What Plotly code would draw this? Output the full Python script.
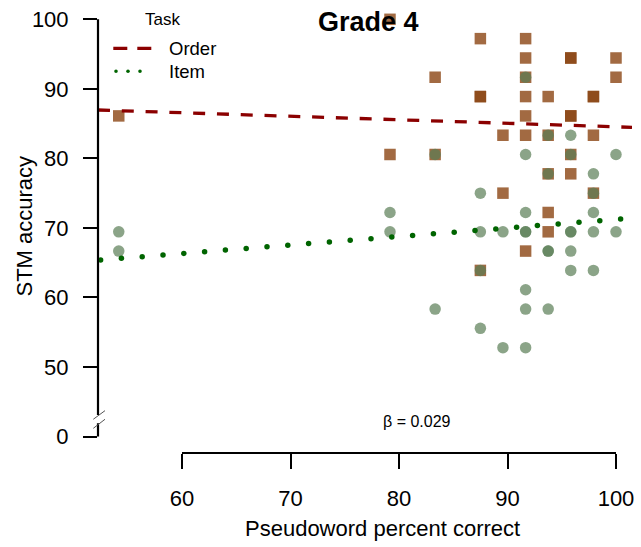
import numpy as np
import plotly.graph_objects as go

# ---------------- data ----------------
order_x = [54.17, 79.17, 79.17, 83.33, 83.33,
           87.5, 87.5, 87.5, 87.5, 89.58, 89.58,
           91.67, 91.67, 91.67, 91.67, 91.67, 91.67, 91.67,
           93.75, 93.75, 93.75, 93.75, 93.75,
           95.83, 95.83, 95.83, 95.83, 95.83, 95.83,
           97.92, 97.92, 97.92, 97.92, 100.0, 100.0]
order_y = [86.11, 100.0, 80.56, 91.67, 80.56,
           97.22, 88.89, 88.89, 63.89, 83.33, 75.0,
           97.22, 94.44, 91.67, 88.89, 86.11, 83.33, 66.67,
           88.89, 83.33, 77.78, 72.22, 69.44,
           94.44, 94.44, 86.11, 86.11, 80.56, 77.78,
           88.89, 88.89, 83.33, 75.0, 94.44, 91.67]

item_x = [54.17, 54.17, 79.17, 79.17, 83.33, 83.33,
          87.5, 87.5, 87.5, 87.5, 89.58, 89.58,
          91.67, 91.67, 91.67, 91.67, 91.67, 91.67, 91.67, 91.67,
          93.75, 93.75, 93.75, 93.75, 93.75,
          95.83, 95.83, 95.83, 95.83, 95.83, 95.83,
          97.92, 97.92, 97.92, 97.92, 97.92, 100.0, 100.0]
item_y = [69.44, 66.67, 72.22, 69.44, 80.56, 58.33,
          75.0, 69.44, 63.89, 55.56, 69.44, 52.78,
          91.67, 80.56, 72.22, 69.44, 69.44, 61.11, 58.33, 52.78,
          83.33, 77.78, 66.67, 66.67, 58.33,
          83.33, 80.56, 69.44, 69.44, 66.67, 63.89,
          77.78, 75.0, 72.22, 69.44, 63.89, 80.56, 69.44]

# fitted regression lines (intercept, slope)
order_fit = [89.60, -0.0506]
item_fit = [58.96, 0.1226]

x_ticks = [60, 70, 80, 90, 100]
y_tickvals = [40, 50, 60, 70, 80, 90, 100]
y_ticktext = ["0", "50", "60", "70", "80", "90", "100"]
beta_text = "\u03b2 = 0.029"

# ---------------- layout geometry ----------------
W, H = 641, 547
PX_L, PX_R, PX_T, PX_B = 98, 632, 2, 453
XR = [52.258, 101.475]
YR = [37.63, 102.49]
ppu_x = (PX_R - PX_L) / (XR[1] - XR[0])


def fy(v):
    return (v - YR[0]) / (YR[1] - YR[0])


def fx(v):
    return (v - XR[0]) / (XR[1] - XR[0])


def pxx(p):
    return (p - PX_L) / (PX_R - PX_L)


def pxy(p):
    return (PX_B - p) / (PX_B - PX_T)


FONT = "Liberation Sans, Arial, sans-serif"
BROWN = "rgba(139,69,19,0.8)"
GREEN = "rgba(90,125,85,0.7)"
DARKRED = "#8B0000"
DARKGREEN = "#006400"

fig = go.Figure()

fig.add_trace(go.Scatter(x=order_x, y=order_y, mode="markers",
                         marker=dict(symbol="square", size=11.5, color=BROWN,
                                     line=dict(width=0)),
                         showlegend=False, hoverinfo="skip"))
fig.add_trace(go.Scatter(x=item_x, y=item_y, mode="markers",
                         marker=dict(symbol="circle", size=11.5, color=GREEN,
                                     line=dict(width=0)),
                         showlegend=False, hoverinfo="skip"))

# order regression (dashed)
lx = np.array(XR)
fig.add_trace(go.Scatter(x=lx, y=order_fit[0] + order_fit[1] * lx, mode="lines",
                         line=dict(color=DARKRED, width=3.3, dash="12px,11.8px"),
                         showlegend=False, hoverinfo="skip"))
# item regression (dotted, round dots)
dx = np.arange(XR[0] + 2.6 / ppu_x, XR[1], 20.8 / ppu_x)
fig.add_trace(go.Scatter(x=dx, y=item_fit[0] + item_fit[1] * dx, mode="markers",
                         marker=dict(symbol="circle", size=5.5, color=DARKGREEN,
                                     line=dict(width=0)),
                         showlegend=False, hoverinfo="skip"))

shapes = []
LW = 2.2
# y axis with break
shapes.append(dict(type="line", xref="paper", yref="paper", x0=0, x1=0,
                   y0=fy(100), y1=fy(43.10), line=dict(color="black", width=LW)))
shapes.append(dict(type="line", xref="paper", yref="paper", x0=0, x1=0,
                   y0=fy(41.91), y1=fy(40), line=dict(color="black", width=LW)))
for ya, yb in [(42.48, 43.72), (41.18, 42.48)]:
    shapes.append(dict(type="line", xref="paper", yref="paper",
                       x0=pxx(93.3), x1=pxx(105), y0=fy(ya), y1=fy(yb),
                       line=dict(color="#555555", width=1)))
# x axis line
shapes.append(dict(type="line", xref="paper", yref="paper", x0=fx(60), x1=fx(100),
                   y0=0, y1=0, line=dict(color="black", width=LW)))
# legend symbols
shapes.append(dict(type="line", xref="paper", yref="paper", x0=pxx(113.3), x1=pxx(151.7),
                   y0=pxy(48.3), y1=pxy(48.3),
                   line=dict(color=DARKRED, width=3.3, dash="14px,10px")))
for cx in [116, 128, 140]:
    r = 1.8
    shapes.append(dict(type="circle", xref="paper", yref="paper",
                       x0=pxx(cx - r), x1=pxx(cx + r), y0=pxy(71.3 + r), y1=pxy(71.3 - r),
                       fillcolor=DARKGREEN, line=dict(width=0)))

annotations = [
    dict(text="<b>Grade 4</b>", x=pxx(368), y=pxy(22.5), xref="paper", yref="paper",
         showarrow=False, xanchor="center", yanchor="middle",
         font=dict(family=FONT, size=27, color="black")),
    dict(text="Task", x=pxx(143), y=pxy(19), xref="paper", yref="paper",
         showarrow=False, xanchor="left", yanchor="middle",
         font=dict(family=FONT, size=17, color="black")),
    dict(text="Order", x=pxx(167), y=pxy(48.3), xref="paper", yref="paper",
         showarrow=False, xanchor="left", yanchor="middle",
         font=dict(family=FONT, size=18.5, color="black")),
    dict(text="Item", x=pxx(167), y=pxy(71.5), xref="paper", yref="paper",
         showarrow=False, xanchor="left", yanchor="middle",
         font=dict(family=FONT, size=18.5, color="black")),
    dict(text=beta_text, x=pxx(416.5), y=pxy(421), xref="paper", yref="paper",
         showarrow=False, xanchor="center", yanchor="middle",
         font=dict(family=FONT, size=16, color="black")),
    dict(text="Pseudoword percent correct", x=pxx(382.5), y=pxy(528), xref="paper",
         yref="paper", showarrow=False, xanchor="center", yanchor="middle",
         font=dict(family=FONT, size=22, color="black")),
    dict(text="STM accuracy", x=pxx(24), y=pxy(226.5), xref="paper", yref="paper",
         showarrow=False, xanchor="center", yanchor="middle", textangle=-90,
         font=dict(family=FONT, size=22, color="black")),
]

fig.update_layout(
    width=W, height=H,
    margin=dict(l=PX_L, r=W - PX_R, t=PX_T, b=H - PX_B, pad=0),
    paper_bgcolor="white", plot_bgcolor="white",
    showlegend=False,
    shapes=shapes, annotations=annotations,
    xaxis=dict(range=XR, tickvals=x_ticks, ticks="outside", ticklen=15, tickwidth=LW,
               tickcolor="black", showgrid=False, zeroline=False, showline=False,
               ticklabelstandoff=11,
               tickfont=dict(family=FONT, size=22, color="black")),
    yaxis=dict(range=YR, tickvals=y_tickvals, ticktext=y_ticktext, ticks="outside",
               ticklen=14, tickwidth=LW, tickcolor="black", showgrid=False,
               zeroline=False, showline=False, ticklabelstandoff=10,
               tickfont=dict(family=FONT, size=22, color="black")),
)

fig.write_html("out.html")
